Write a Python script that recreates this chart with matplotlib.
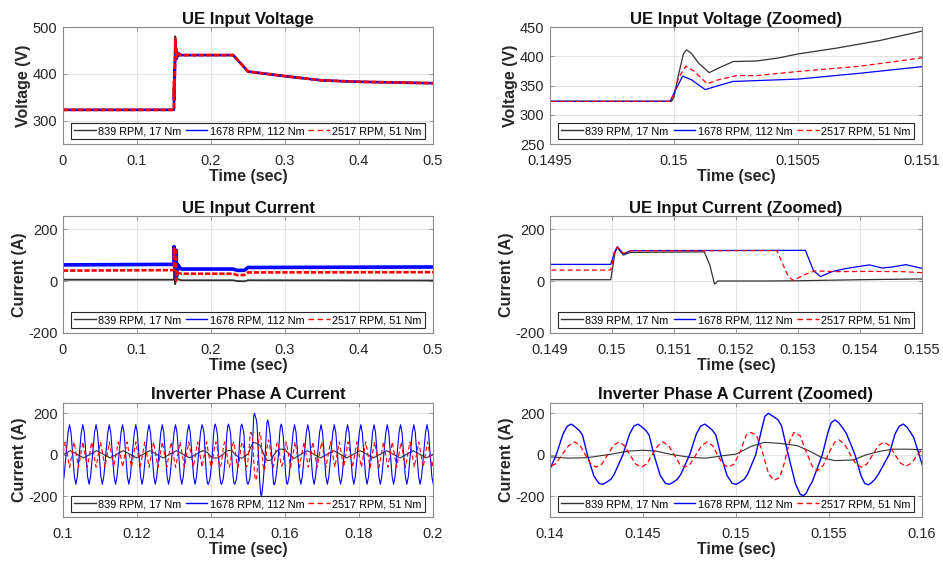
import numpy as np
import matplotlib
matplotlib.use("Agg")
import matplotlib.pyplot as plt
from matplotlib.ticker import FuncFormatter

plt.rcParams['font.family'] = ['Liberation Sans', 'DejaVu Sans']

labels = ["839 RPM, 17 Nm", "1678 RPM, 112 Nm", "2517 RPM, 51 Nm"]

# ---------------- UE input voltage ----------------
volt_t_839 = [0, 0.14999, 0.15000, 0.150017, 0.150038, 0.15005, 0.15007, 0.1501, 0.150142, 0.15018,
              0.150239, 0.150333, 0.15042, 0.1505, 0.150656, 0.15083, 0.151, 0.1513, 0.1516, 0.152,
              0.1524, 0.153, 0.154, 0.156, 0.16, 0.23, 0.25, 0.30, 0.35, 0.40, 0.50]
volt_v_839 = [323, 323, 330, 366, 404, 411, 405, 388, 372, 380,
              391, 392, 397, 404, 414, 427, 443, 465, 480, 455,
              470, 435, 446, 438, 440, 440, 405, 395, 386, 383, 380]

volt_t_1678 = [0, 0.149985, 0.15, 0.150035, 0.15007, 0.150126, 0.15018, 0.150239, 0.1505, 0.15075,
               0.150995, 0.1515, 0.152, 0.1524, 0.1528, 0.1538, 0.1555, 0.16, 0.23, 0.25,
               0.30, 0.35, 0.40, 0.50]
volt_v_1678 = [323, 323, 337, 366, 360, 343, 350, 357, 361, 371,
               382, 420, 470, 440, 452, 432, 445, 440, 440, 405,
               395, 386, 383, 380]

volt_t_2517 = [0, 0.149985, 0.15, 0.15002, 0.150048, 0.15008, 0.150134, 0.15018, 0.150253, 0.150333,
               0.1505, 0.15075, 0.150995, 0.1514, 0.1518, 0.1522, 0.1526, 0.1535, 0.155, 0.16,
               0.23, 0.25, 0.30, 0.35, 0.40, 0.50]
volt_v_2517 = [323, 323, 335, 365, 383, 375, 353, 360, 367, 367,
               374, 383, 397, 430, 475, 445, 455, 436, 443, 440,
               440, 405, 395, 386, 383, 380]

# ---------------- UE input current ----------------
curr_t_839 = [0, 0.14998, 0.15005, 0.150086, 0.150184, 0.1503, 0.15149, 0.15158, 0.151654, 0.15171,
              0.1525, 0.153, 0.154, 0.155, 0.157, 0.16, 0.23, 0.235, 0.245, 0.25, 0.5]
curr_i_839 = [5, 5, 110, 128, 100, 110, 112, 60, -12, 0,
              0, 1, 5, 8, 5, 3, 3, 0, -1, 3, 2]

curr_t_1678 = [0, 0.14998, 0.15004, 0.150086, 0.150184, 0.1503, 0.15312, 0.15325, 0.153362, 0.15355,
               0.15377, 0.15415, 0.15436, 0.15452, 0.15474, 0.15501, 0.1565, 0.158, 0.16, 0.23,
               0.235, 0.245, 0.25, 0.5]
curr_i_1678 = [62, 64, 110, 132, 104, 117, 118, 40, 17, 36,
               48, 62, 50, 54, 63, 48, 58, 48, 46, 46,
               41, 41, 52, 54]

curr_t_2517 = [0, 0.14998, 0.15004, 0.150086, 0.150184, 0.1503, 0.15266, 0.15285, 0.15293, 0.15312,
               0.15328, 0.15361, 0.15415, 0.15469, 0.15501, 0.157, 0.16, 0.23, 0.235, 0.245,
               0.25, 0.5]
curr_i_2517 = [40, 42, 110, 130, 106, 116, 117, 14, 3, 26,
               39, 36, 37, 36, 32, 30, 28, 28, 23, 23,
               33, 34]

# ---------------- Inverter phase A current ----------------
ph_t_839 = [0.09841, 0.10199, 0.10557, 0.10915, 0.11273, 0.11631, 0.11989, 0.12347, 0.12705, 0.13063,
            0.13421, 0.13779, 0.1390, 0.1400, 0.1410, 0.1420, 0.1433, 0.1442, 0.1450, 0.1457,
            0.1465, 0.1476, 0.1484, 0.1495, 0.1500, 0.1508, 0.1515, 0.1524, 0.1533, 0.1540,
            0.1546, 0.1553, 0.1563, 0.1570, 0.1577, 0.1584, 0.1593, 0.1600, 0.1624, 0.1660,
            0.1696, 0.1732, 0.1767, 0.1803, 0.1839, 0.1875, 0.1911, 0.1946, 0.1982, 0.2018]
ph_i_839 = [-15, 20, -15, 20, -15, 20, -15, 20, -15, 20,
            -15, 20, 12, -10, -16, -14, 3, 18, 22, 18,
            2, -13, -16, -2, 3, 40, 60, 55, 44, 16,
            -13, -28, -25, 0, 16, 27, 27, 24, -18, 20,
            -15, 20, -15, 20, -15, 20, -15, 20, -15, 20]

# 1678 RPM: before the transient, around it, after it
ph_t_1678_a = [0.09949, 0.09989, 0.10029, 0.10137, 0.10177, 0.10217, 0.10307, 0.10347, 0.10387, 0.10495,
               0.10535, 0.10575, 0.10665, 0.10705, 0.10745, 0.10853, 0.10893, 0.10933, 0.11023, 0.11063,
               0.11103, 0.11211, 0.11251, 0.11291, 0.11381, 0.11421, 0.11461, 0.11569, 0.11609, 0.11649,
               0.11739, 0.11779, 0.11819, 0.11927, 0.11967, 0.12007, 0.12097, 0.12137, 0.12177, 0.12285,
               0.12325, 0.12365, 0.12455, 0.12495, 0.12535, 0.12643, 0.12683, 0.12723, 0.12813, 0.12853,
               0.12893, 0.13001, 0.13041, 0.13081, 0.13171, 0.13211, 0.13251, 0.13359, 0.13399, 0.13439,
               0.13529, 0.13569, 0.13609, 0.13717]
ph_i_1678_a = [-105, -142, -105, 108, 145, 108, -105, -142, -105, 108,
               145, 108, -105, -142, -105, 108, 145, 108, -105, -142,
               -105, 108, 145, 108, -105, -142, -105, 108, 145, 108,
               -105, -142, -105, 108, 145, 108, -105, -142, -105, 108,
               145, 108, -105, -142, -105, 108, 145, 108, -105, -142,
               -105, 108, 145, 108, -105, -142, -105, 108, 145, 108,
               -105, -142, -105, 108]
ph_t_1678_b = [0.13757, 0.13777, 0.13799, 0.13817, 0.13843, 0.13877, 0.13905, 0.13927, 0.13947, 0.13969,
               0.13987, 0.14034, 0.14070, 0.14093, 0.14115, 0.14135, 0.14157, 0.14175, 0.14201, 0.14235,
               0.14263, 0.14285, 0.14305, 0.14327, 0.14345, 0.14392, 0.14428, 0.14451, 0.14473, 0.14493,
               0.14515, 0.14533, 0.14559, 0.14593, 0.14621, 0.14643, 0.14663, 0.14685, 0.14703, 0.14751,
               0.14787, 0.14810, 0.14832, 0.14852, 0.14874, 0.14892, 0.14918, 0.14952, 0.14980, 0.15002,
               0.15022, 0.15044, 0.15062, 0.15106, 0.15140, 0.15155, 0.15174, 0.15195, 0.15225, 0.15245,
               0.15281, 0.15320, 0.15345, 0.15362, 0.15378, 0.15392, 0.15410, 0.15464, 0.15495, 0.15512,
               0.15532, 0.15552, 0.15577, 0.15595, 0.15640, 0.15672, 0.15692, 0.15711, 0.15728, 0.15747,
               0.15765, 0.15823, 0.15855, 0.15878, 0.15899, 0.15918, 0.15937, 0.15955, 0.15985, 0.16019,
               0.16047, 0.16069]
ph_i_1678_b = [145, 135, 118, 95, 0, -100, -138, -142, -132, -118,
               -95, 0, 100, 138, 148, 135, 118, 95, 0, -100,
               -138, -142, -132, -118, -95, 0, 100, 138, 148, 135,
               118, 95, 0, -100, -138, -142, -132, -118, -95, 0,
               100, 138, 148, 135, 118, 95, 0, -100, -138, -142,
               -132, -118, -95, 0, 130, 185, 200, 188, 170, 140,
               0, -140, -190, -198, -185, -158, -130, 0, 110, 155,
               168, 155, 126, 100, 0, -100, -138, -145, -135, -118,
               -95, 0, 100, 138, 148, 135, 110, 85, 0, -100,
               -138, -142]
ph_t_1678_c = [0.16109, 0.16218, 0.16258, 0.16298, 0.16388, 0.16428, 0.16468, 0.16576, 0.16616, 0.16656,
               0.16746, 0.16786, 0.16826, 0.16934, 0.16974, 0.17014, 0.17104, 0.17144, 0.17184, 0.17292,
               0.17332, 0.17372, 0.17462, 0.17502, 0.17542, 0.17650, 0.17690, 0.17730, 0.17820, 0.17860,
               0.17900, 0.18008, 0.18048, 0.18088, 0.18178, 0.18218, 0.18258, 0.18366, 0.18406, 0.18446,
               0.18536, 0.18576, 0.18616, 0.18724, 0.18764, 0.18804, 0.18894, 0.18934, 0.18974, 0.19082,
               0.19122, 0.19162, 0.19252, 0.19292, 0.19332, 0.19440, 0.19480, 0.19520, 0.19610, 0.19650,
               0.19690, 0.19798, 0.19838, 0.19878, 0.19968, 0.20008]
ph_i_1678_c = [-105, 108, 145, 108, -105, -142, -105, 108, 145, 108,
               -105, -142, -105, 108, 145, 108, -105, -142, -105, 108,
               145, 108, -105, -142, -105, 108, 145, 108, -105, -142,
               -105, 108, 145, 108, -105, -142, -105, 108, 145, 108,
               -105, -142, -105, 108, 145, 108, -105, -142, -105, 108,
               145, 108, -105, -142, -105, 108, 145, 108, -105, -142,
               -105, 108, 145, 108, -105, -142]
ph_t_1678 = ph_t_1678_a + ph_t_1678_b + ph_t_1678_c
ph_i_1678 = ph_i_1678_a + ph_i_1678_b + ph_i_1678_c

ph_t_2517 = [0.09941, 0.10060, 0.10179, 0.10299, 0.10418, 0.10537, 0.10657, 0.10776, 0.10895, 0.11015,
             0.11134, 0.11253, 0.11373, 0.11492, 0.11611, 0.11731, 0.11850, 0.11969, 0.12089, 0.12208,
             0.12327, 0.12447, 0.12566, 0.12685, 0.12805, 0.12924, 0.13043, 0.13163, 0.13282, 0.13401,
             0.13521, 0.13640, 0.13760, 0.13879, 0.13998, 0.14030, 0.14065, 0.14100, 0.14133, 0.14163,
             0.14190, 0.14220, 0.14249, 0.14280, 0.14310, 0.14340, 0.14371, 0.14400, 0.14430, 0.14460,
             0.14491, 0.14520, 0.14550, 0.14580, 0.14608, 0.14638, 0.14668, 0.14697, 0.14724, 0.14755,
             0.14785, 0.14815, 0.14845, 0.14875, 0.14900, 0.14930, 0.14957, 0.14990, 0.15025, 0.15055,
             0.15079, 0.15110, 0.15140, 0.15175, 0.15204, 0.15235, 0.15260, 0.15290, 0.15312, 0.15345,
             0.15375, 0.15410, 0.15437, 0.15470, 0.15500, 0.15530, 0.15554, 0.15585, 0.15615, 0.15645,
             0.15676, 0.15705, 0.15735, 0.15765, 0.15796, 0.15825, 0.15855, 0.15885, 0.15913, 0.15945,
             0.15975, 0.16000, 0.16035, 0.16153, 0.16273, 0.16391, 0.16512, 0.16630, 0.16751, 0.16869,
             0.16989, 0.17107, 0.17228, 0.17346, 0.17467, 0.17585, 0.17705, 0.17823, 0.17944, 0.18062,
             0.18183, 0.18301, 0.18421, 0.18539, 0.18660, 0.18778, 0.18899, 0.19017, 0.19137, 0.19255,
             0.19376, 0.19494, 0.19615, 0.19733, 0.19853, 0.19971, 0.20090]
ph_i_2517 = [-60, 62, -60, 62, -60, 62, -60, 62, -60, 62,
             -60, 62, -60, 62, -60, 62, -60, 62, -60, 62,
             -60, 62, -60, 62, -60, 62, -60, 62, -60, 62,
             -60, 62, -60, 62, -58, -44, 0, 44, 62, 44,
             0, -44, -60, -44, 0, 44, 62, 44, 0, -44,
             -60, -44, 0, 44, 62, 44, 0, -44, -60, -44,
             0, 44, 62, 44, 0, -44, -60, -45, 20, 95,
             108, 95, 20, -90, -123, -110, -40, 70, 108, 92,
             20, -55, -77, -50, 10, 60, 72, 50, 0, -45,
             -60, -44, 0, 44, 62, 44, 0, -40, -55, -40,
             0, 25, 62, -60, 62, -60, 62, -60, 62, -60,
             62, -60, 62, -60, 62, -60, 62, -60, 62, -60,
             62, -60, 62, -60, 62, -60, 62, -60, 62, -60,
             62, -60, 62, -60, 62, -60, 62]

# ---------------- layout ----------------
fig = plt.figure(figsize=(9.43, 5.67), dpi=100)
cols = [(0.0668, 0.3924), (0.5832, 0.3945)]
rows = [(0.746, 0.2063), (0.4127, 0.2063), (0.0882, 0.2011)]

TXT = '#262626'
SPINE = '#8a8a8a'
colors = ['#333333', '#0000ff', '#ff0000']
LEG_DASH = (0, (4, 2.5))
fmt = FuncFormatter(lambda v, _: f"{v:g}")


def style(ax, title, ylabel, xlim, xticks, ylim, yticks):
    ax.set_xlim(*xlim)
    ax.set_ylim(*ylim)
    ax.set_xticks(xticks)
    ax.set_yticks(yticks)
    ax.xaxis.set_major_formatter(fmt)
    ax.yaxis.set_major_formatter(fmt)
    ax.grid(True, color='#e3e3e3', linewidth=0.8)
    ax.set_axisbelow(True)
    for s in ax.spines.values():
        s.set_color(SPINE)
        s.set_linewidth(0.8)
    ax.tick_params(direction='in', length=3, width=0.6, color=SPINE, labelcolor=TXT,
                   labelsize=10.5, top=True, right=True)
    ax.tick_params(axis='x', pad=7)
    ax.tick_params(axis='y', pad=4)
    ax.set_title(title, fontsize=12, fontweight='bold', color='#111111', pad=2.5)
    ax.set_xlabel('Time (sec)', fontsize=11.5, fontweight='bold', color=TXT, labelpad=1)
    ax.set_ylabel(ylabel, fontsize=11.5, fontweight='bold', color=TXT, labelpad=1)
    leg = ax.legend(loc='lower left', bbox_to_anchor=(0.022, 0.04, 0.956, 0.13), mode='expand',
                    ncol=3, fontsize=7.8, frameon=True, fancybox=False, framealpha=1,
                    edgecolor='#262626', handlelength=2.0, handletextpad=0.2,
                    columnspacing=0.6, borderpad=0.3, borderaxespad=0)
    leg.get_frame().set_linewidth(0.8)
    for ln, c in zip(leg.get_lines(), colors):
        ln.set_linewidth(1.0)
        ln.set_color(c)
    leg.get_lines()[2].set_linestyle(LEG_DASH)


def draw(ax, series, lws, dash):
    for (t, y), c, lw, lab in zip(series, colors, lws, labels):
        if c == '#ff0000':
            ax.plot(t, y, color=c, lw=lw, ls=(0, dash), label=lab)
        else:
            ax.plot(t, y, color=c, lw=lw, label=lab)


volt = [(volt_t_839, volt_v_839), (volt_t_1678, volt_v_1678), (volt_t_2517, volt_v_2517)]
curr = [(curr_t_839, curr_i_839), (curr_t_1678, curr_i_1678), (curr_t_2517, curr_i_2517)]
phase = [(ph_t_839, ph_i_839), (ph_t_1678, ph_i_1678), (ph_t_2517, ph_i_2517)]


def add_ax(r, c):
    return fig.add_axes([cols[c][0], rows[r][0], cols[c][1], rows[r][1]])


ax = add_ax(0, 0)
draw(ax, volt, [1.4, 1.8, 2.0], (2, 0.7))
style(ax, 'UE Input Voltage', 'Voltage (V)', (0, 0.5), np.arange(0, 0.51, 0.1), (250, 500), [300, 400, 500])

ax = add_ax(0, 1)
draw(ax, volt, [0.9, 0.9, 0.9], (4, 2.5))
style(ax, 'UE Input Voltage (Zoomed)', 'Voltage (V)', (0.1495, 0.151),
      [0.1495, 0.15, 0.1505, 0.151], (250, 450), [250, 300, 350, 400, 450])

ax = add_ax(1, 0)
draw(ax, curr, [1.3, 2.6, 1.9], (2, 0.7))
style(ax, 'UE Input Current', 'Current (A)', (0, 0.5), np.arange(0, 0.51, 0.1), (-200, 250), [-200, 0, 200])

ax = add_ax(1, 1)
draw(ax, curr, [0.9, 0.9, 0.9], (4, 2.5))
style(ax, 'UE Input Current (Zoomed)', 'Current (A)', (0.149, 0.155),
      [0.149, 0.15, 0.151, 0.152, 0.153, 0.154, 0.155], (-200, 250), [-200, 0, 200])

ax = add_ax(2, 0)
draw(ax, phase, [0.8, 0.8, 0.8], (4, 2.5))
style(ax, 'Inverter Phase A Current', 'Current (A)', (0.1, 0.2),
      [0.1, 0.12, 0.14, 0.16, 0.18, 0.2], (-300, 250), [-200, 0, 200])

ax = add_ax(2, 1)
draw(ax, phase, [0.8, 1.0, 0.9], (4, 2.5))
style(ax, 'Inverter Phase A Current (Zoomed)', 'Current (A)', (0.14, 0.16),
      [0.14, 0.145, 0.15, 0.155, 0.16], (-300, 250), [-200, 0, 200])

fig.savefig('out.png', dpi=100)
